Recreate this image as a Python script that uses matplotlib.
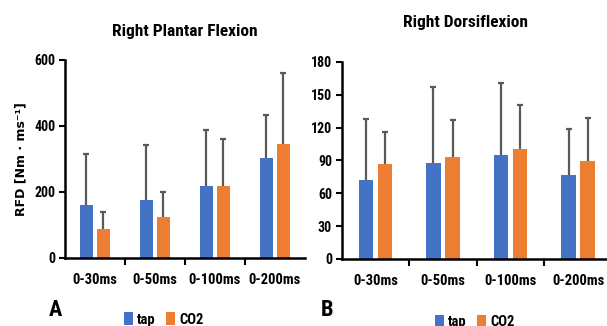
import matplotlib
matplotlib.use("Agg")
import matplotlib.pyplot as plt
import numpy as np

# categories and series
categories = ["0-30ms", "0-50ms", "0-100ms", "0-200ms"]
series_names = ["tap", "CO2"]

# panel A: right plantar flexion (mean, upper end of error bar)
plantar_tap = [160, 175, 218, 302]
plantar_tap_top = [314, 342, 387, 432]
plantar_co2 = [87, 124, 218, 345]
plantar_co2_top = [140, 200, 360, 561]

# panel B: right dorsiflexion
dorsi_tap = [72, 88, 94.5, 77]
dorsi_tap_top = [128, 157, 161, 119]
dorsi_co2 = [86.5, 93.5, 100.5, 89]
dorsi_co2_top = [116, 127, 141, 129]

plantar_ticks = [0, 200, 400, 600]
dorsi_ticks = [0, 30, 60, 90, 120, 150, 180]

BLUE = "#4472C4"
ORANGE = "#ED7D31"
ERR = "#595959"
NARROW = ["Roboto Condensed", "DejaVu Sans"]

plt.rcParams["font.family"] = NARROW
plt.rcParams["font.weight"] = "bold"


def draw_panel(ax, tap, tap_top, co2, co2_top, yticks):
    x = np.arange(len(categories))
    w = 0.215
    off = 0.142
    # error bars drawn under the bars so only the upper half shows
    ax.errorbar(x - off, tap, yerr=np.array(tap_top) - np.array(tap), fmt="none",
                ecolor=ERR, elinewidth=1.6, capsize=2, capthick=1.6, zorder=1)
    ax.errorbar(x + off, co2, yerr=np.array(co2_top) - np.array(co2), fmt="none",
                ecolor=ERR, elinewidth=1.6, capsize=2, capthick=1.6, zorder=1)
    ax.bar(x - off, tap, w, color=BLUE, label=series_names[0], zorder=2)
    ax.bar(x + off, co2, w, color=ORANGE, label=series_names[1], zorder=2)
    ax.set_xlim(-0.5, len(categories) - 0.5)
    ax.set_ylim(yticks[0], yticks[-1])
    ax.set_yticks(yticks)
    # excel style: ticks between categories, labels centred
    ax.set_xticks(np.arange(len(categories) - 1) + 0.5)
    ax.set_xticklabels([])
    ax.set_xticks(x, minor=True)
    ax.set_xticklabels(categories, minor=True)
    ax.tick_params(axis="x", which="minor", length=0, pad=11, labelsize=10.5)
    ax.tick_params(axis="x", which="major", length=5, width=1.5, direction="out")
    ax.tick_params(axis="y", length=4, width=1.5, labelsize=10, pad=3)
    for side in ["top", "right"]:
        ax.spines[side].set_visible(False)
    for side in ["left", "bottom"]:
        ax.spines[side].set_linewidth(1.8)


fig = plt.figure(figsize=(6.07, 3.26), dpi=100)
ax1 = fig.add_axes([0.107, 0.209, 0.395, 0.607])
ax2 = fig.add_axes([0.563, 0.206, 0.445, 0.604])

draw_panel(ax1, plantar_tap, plantar_tap_top, plantar_co2, plantar_co2_top, plantar_ticks)
draw_panel(ax2, dorsi_tap, dorsi_tap_top, dorsi_co2, dorsi_co2_top, dorsi_ticks)

ax1.set_title("Right Plantar Flexion", fontsize=12.5, fontweight="bold", pad=17)
ax2.set_title("Right Dorsiflexion", fontsize=12.5, fontweight="bold", x=0.46, pad=25)

ax1.set_ylabel("RFD [Nm · ms⁻¹]", fontsize=9, fontweight="bold", labelpad=5,
               family="DejaVu Sans")

ax1.legend(loc="center", bbox_to_anchor=(0.27, 0.02), bbox_transform=fig.transFigure,
           ncol=2, frameon=False, handlelength=0.6, handleheight=0.9, handletextpad=0.3,
           columnspacing=0.7, fontsize=10.5, borderaxespad=0)
ax2.legend(loc="center", bbox_to_anchor=(0.782, 0.013), bbox_transform=fig.transFigure,
           ncol=2, frameon=False, handlelength=0.6, handleheight=0.9, handletextpad=0.3,
           columnspacing=0.7, fontsize=10.5, borderaxespad=0)

fig.text(0.091, 0.05, "A", fontsize=16, fontweight="bold", ha="center", va="center")
fig.text(0.538, 0.05, "B", fontsize=16, fontweight="bold", ha="center", va="center")

fig.savefig("out.png", dpi=100)
